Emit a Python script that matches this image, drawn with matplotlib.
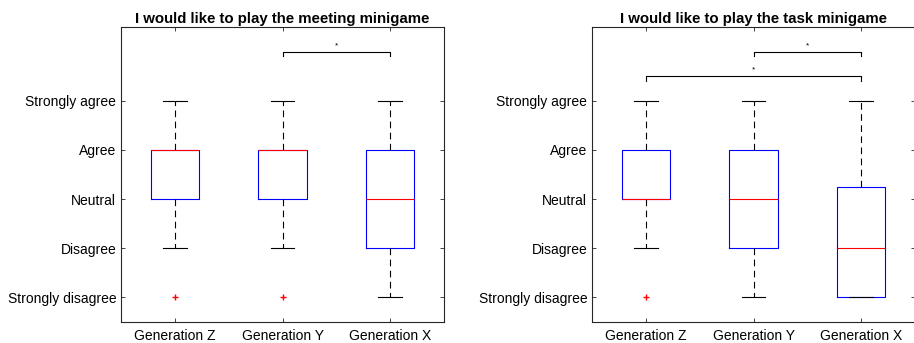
import matplotlib
matplotlib.use("Agg")
import matplotlib.pyplot as plt

plt.rcParams['font.family'] = ['Liberation Sans', 'DejaVu Sans']

groups = ["Generation Z", "Generation Y", "Generation X"]
levels = ["Strongly disagree", "Disagree", "Neutral", "Agree", "Strongly agree"]

# meeting minigame box stats (1 = strongly disagree ... 5 = strongly agree)
meet_q1 = [3, 3, 2]
meet_med = [4, 4, 3]
meet_q3 = [4, 4, 4]
meet_lo = [2, 2, 1]
meet_hi = [5, 5, 5]
meet_fliers = [[1], [1], []]
meet_sig = [(2, 3, 6.0)]

# task minigame box stats
task_q1 = [3, 2, 1]
task_med = [3, 3, 2]
task_q3 = [4, 4, 3.25]
task_lo = [2, 1, 1]
task_hi = [5, 5, 5]
task_fliers = [[1], [], []]
task_sig = [(2, 3, 6.0), (1, 3, 5.5)]


def draw_panel(ax, title, q1, med, q3, lo, hi, fliers, sig):
    stats = []
    for i in range(len(groups)):
        stats.append(dict(q1=q1[i], med=med[i], q3=q3[i], whislo=lo[i],
                          whishi=hi[i], fliers=fliers[i], label=groups[i]))
    ax.bxp(stats, positions=[1, 2, 3], widths=0.45, capwidths=0.22,
           boxprops=dict(color='blue', linewidth=0.8),
           medianprops=dict(color='red', linewidth=0.8),
           whiskerprops=dict(color='black', linewidth=0.8, linestyle=(0, (6, 4))),
           capprops=dict(color='black', linewidth=0.8),
           flierprops=dict(marker='+', markeredgecolor='red', markersize=4,
                           markeredgewidth=1.0))
    for a, b, y in sig:
        ax.plot([a, a, b, b], [y - 0.1, y, y, y - 0.1], color='black', lw=0.8)
        ax.text((a + b) / 2, y + 0.05, '*', ha='center', va='bottom', fontsize=6)
    ax.set_xlim(0.5, 3.5)
    ax.set_ylim(0.5, 6.5)
    ax.set_yticks(range(1, 6))
    ax.set_yticklabels(levels)
    ax.set_xticks([1, 2, 3])
    ax.set_xticklabels(groups)
    ax.tick_params(direction='in', length=3, width=0.6, labelsize=10,
                   top=True, right=True, colors='#262626')
    ax.tick_params(axis='x', pad=5)
    ax.tick_params(labelcolor='black')
    for s in ax.spines.values():
        s.set_linewidth(0.8)
        s.set_color('#262626')
    ax.set_title(title, fontsize=10.8, fontweight='bold', pad=3)


fig = plt.figure(figsize=(9.14, 3.43), dpi=100)
ax1 = fig.add_axes([0.1324, 0.0612, 0.3534, 0.8601])
ax2 = fig.add_axes([0.6477, 0.0612, 0.3534, 0.8601])
draw_panel(ax1, "I would like to play the meeting minigame",
           meet_q1, meet_med, meet_q3, meet_lo, meet_hi, meet_fliers, meet_sig)
draw_panel(ax2, "I would like to play the task minigame",
           task_q1, task_med, task_q3, task_lo, task_hi, task_fliers, task_sig)
fig.savefig("out.png", dpi=100)
